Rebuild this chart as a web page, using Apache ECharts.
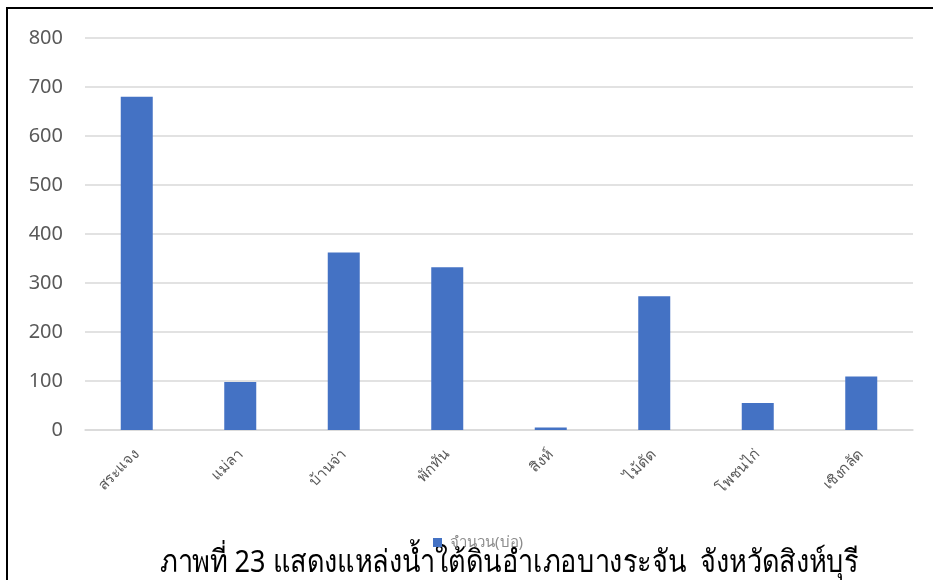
<!DOCTYPE html>
<html><head><meta charset="utf-8">
<script src="https://cdn.jsdelivr.net/npm/echarts@6/dist/echarts.min.js"></script>
<style>html,body{margin:0;padding:0;background:#fff}#c{width:933px;height:580px}</style>
</head><body><div id="c"></div>
<script>
const categories = ['สระแจง','แม่ลา','บ้านจ่า','พักทัน','สิงห์','ไม้ดัด','โพชนไก่','เชิงกลัด'];
const values = [680, 98, 362, 332, 5, 273, 55, 109];
const seriesName = 'จำนวน(บ่อ)';
const caption = 'ภาพที่ 23 แสดงแหล่งน้ำใต้ดินอำเภอบางระจัน  จังหวัดสิงห์บุรี';
const yMin = 0, yMax = 800, yInterval = 100;

const chart = echarts.init(document.getElementById('c'));
chart.setOption({
  animation: false,
  backgroundColor: '#fff',
  grid: {left: 85, right: 20, top: 38, bottom: 150, containLabel: false},
  xAxis: {
    type: 'category', data: categories,
    axisLine: {lineStyle: {color: '#d9d9d9', width: 1.5}},
    axisTick: {show: false},
    axisLabel: {rotate: 45, margin: 22, color: '#595959', fontSize: 15, fontFamily: 'Noto Sans, sans-serif'}
  },
  yAxis: {
    type: 'value', min: yMin, max: yMax, interval: yInterval,
    axisLine: {show: false}, axisTick: {show: false},
    axisLabel: {color: '#595959', fontSize: 20, margin: 22, fontFamily: 'Noto Sans, sans-serif'},
    splitLine: {lineStyle: {color: '#d9d9d9', width: 1.5}}
  },
  legend: {
    data: [seriesName], left: 433, top: 535, padding: 0, itemWidth: 9, itemHeight: 9, itemGap: 4, z: 200,
    icon: 'rect', textStyle: {color: '#8c8c8c', fontSize: 15, padding: [0, 0, 0, 3], fontFamily: 'Noto Sans, sans-serif'}
  },
  series: [{
    name: seriesName, type: 'bar', data: values, barWidth: 32,
    itemStyle: {color: '#4472c4'}
  }],
  graphic: [
    {type: 'rect', shape: {x: 7, y: 8, width: 940, height: 600}, style: {fill: 'none', stroke: '#000', lineWidth: 2}, silent: true},
    {type: 'text', x: 160, y: 548, scaleX: 0.875, style: {text: caption, fill: '#000', fontSize: 31, fontFamily: 'Noto Sans, sans-serif'}, z: 100}
  ]
});
</script></body></html>
